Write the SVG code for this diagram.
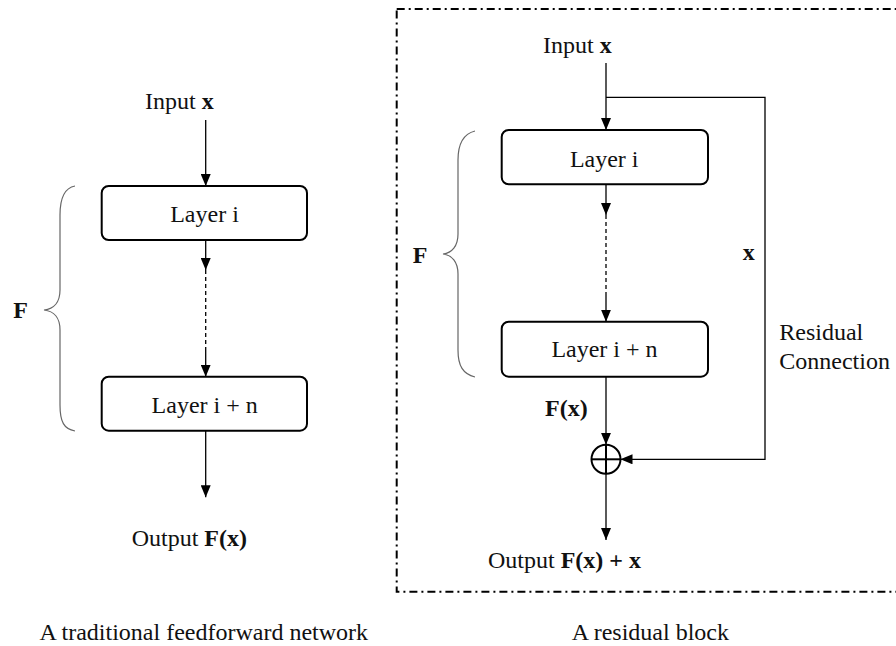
<svg xmlns="http://www.w3.org/2000/svg" width="896" height="646" viewBox="0 0 896 646">
  <defs>
    <marker id="arrow" viewBox="0 0 12 10" refX="12" refY="5" markerWidth="12" markerHeight="10" markerUnits="userSpaceOnUse" orient="auto">
      <path d="M0,0 L12,5 L0,10 z" fill="#000"/>
    </marker>
    <style>
      text { font-family: "Liberation Serif", "Times New Roman", serif; font-size: 24px; fill: #111; }
      .b { font-weight: bold; }
      .mid { text-anchor: middle; }
      .box { fill: #fff; stroke: #000; stroke-width: 2; }
      .link { fill: none; stroke: #000; stroke-width: 1.3; }
      .dash { stroke-dasharray: 4 3; }
      .brace { fill: none; stroke: #666; stroke-width: 1.2; }
      .frame { fill: none; stroke: #000; stroke-width: 2; stroke-dasharray: 8 4 2 4; }
    </style>
  </defs>

  <rect width="896" height="646" fill="#fff"/>

  <!-- dash-dot frame around the residual block (right side runs past the edge) -->
  <rect class="frame" x="396.7" y="9" width="520" height="582.7"/>

  <!-- connectors -->
  <g id="connectors">
    <!-- feedforward network -->
    <line class="link" x1="205.7" y1="120" x2="205.7" y2="186" marker-end="url(#arrow)"/>
    <line class="link" x1="205.7" y1="240" x2="205.7" y2="270" marker-end="url(#arrow)"/>
    <line class="link dash" x1="205.7" y1="270" x2="205.7" y2="347"/>
    <line class="link" x1="205.7" y1="347" x2="205.7" y2="376.7" marker-end="url(#arrow)"/>
    <line class="link" x1="205.7" y1="430.7" x2="205.7" y2="497.3" marker-end="url(#arrow)"/>

    <!-- residual block -->
    <line class="link" x1="606" y1="63" x2="606" y2="130" marker-end="url(#arrow)"/>
    <polyline class="link" points="606,97.3 765,97.3 765,459.3 620.5,459.3" marker-end="url(#arrow)"/>
    <line class="link" x1="606" y1="184.3" x2="606" y2="215" marker-end="url(#arrow)"/>
    <line class="link dash" x1="606" y1="215" x2="606" y2="292"/>
    <line class="link" x1="606" y1="292" x2="606" y2="321.7" marker-end="url(#arrow)"/>
    <line class="link" x1="606" y1="376.7" x2="606" y2="444.8" marker-end="url(#arrow)"/>
    <line class="link" x1="606" y1="473.8" x2="606" y2="540" marker-end="url(#arrow)"/>
  </g>

  <!-- feedforward network -->
  <g id="ff-input"><text x="145" y="109">Input <tspan class="b">x</tspan></text></g>
  <g id="ff-layer-i">
    <rect class="box" x="101.7" y="186" width="205.3" height="54" rx="7"/>
    <text class="mid" x="204.5" y="221.5">Layer i</text>
  </g>
  <g id="ff-layer-in">
    <rect class="box" x="101.7" y="376.7" width="205.3" height="54" rx="7"/>
    <text class="mid" x="204.7" y="412.7">Layer i + n</text>
  </g>
  <g id="ff-output"><text x="131.7" y="546">Output <tspan class="b">F(x)</tspan></text></g>
  <g id="ff-brace">
    <path class="brace" d="M75,186 C64,188 60,198 60,215 L60,290 C60,302 54,309 44,310 C54,311 60,318 60,330 L60,405 C60,422 64,429 75,431"/>
    <text class="b" x="13.3" y="318">F</text>
  </g>
  <g id="ff-caption"><text x="39.5" y="640">A traditional feedforward network</text></g>

  <!-- residual block -->
  <g id="rb-input"><text x="543" y="52.7">Input <tspan class="b">x</tspan></text></g>
  <g id="rb-layer-i">
    <rect class="box" x="501.7" y="130" width="206.3" height="54.3" rx="7"/>
    <text class="mid" x="604.2" y="166.5">Layer i</text>
  </g>
  <g id="rb-layer-in">
    <rect class="box" x="501.7" y="321.7" width="206.3" height="55" rx="7"/>
    <text class="mid" x="604.5" y="356.5">Layer i + n</text>
  </g>
  <g id="rb-fx"><text class="b" x="545" y="416">F(x)</text></g>
  <g id="rb-sum">
    <circle cx="606" cy="459.3" r="14.5" fill="#fff" stroke="#000" stroke-width="2"/>
    <line x1="591.5" y1="459.3" x2="620.5" y2="459.3" stroke="#000" stroke-width="2"/>
    <line x1="606" y1="444.8" x2="606" y2="473.8" stroke="#000" stroke-width="2"/>
  </g>
  <g id="rb-output"><text x="488" y="568">Output <tspan class="b">F(x) + x</tspan></text></g>
  <g id="rb-skip-label">
    <text class="b" x="742.7" y="260">x</text>
    <text x="779.3" y="340">Residual</text>
    <text x="779.3" y="368.5">Connection</text>
  </g>
  <g id="rb-brace">
    <path class="brace" d="M475,131 C463,134 458,145 458,160 L458,234 C458,246 452,253 443,254 C452,255 458,262 458,274 L458,350 C458,366 463,374 475,377"/>
    <text class="b" x="412.7" y="262.7">F</text>
  </g>
  <g id="rb-caption"><text x="571.7" y="640">A residual block</text></g>
</svg>
